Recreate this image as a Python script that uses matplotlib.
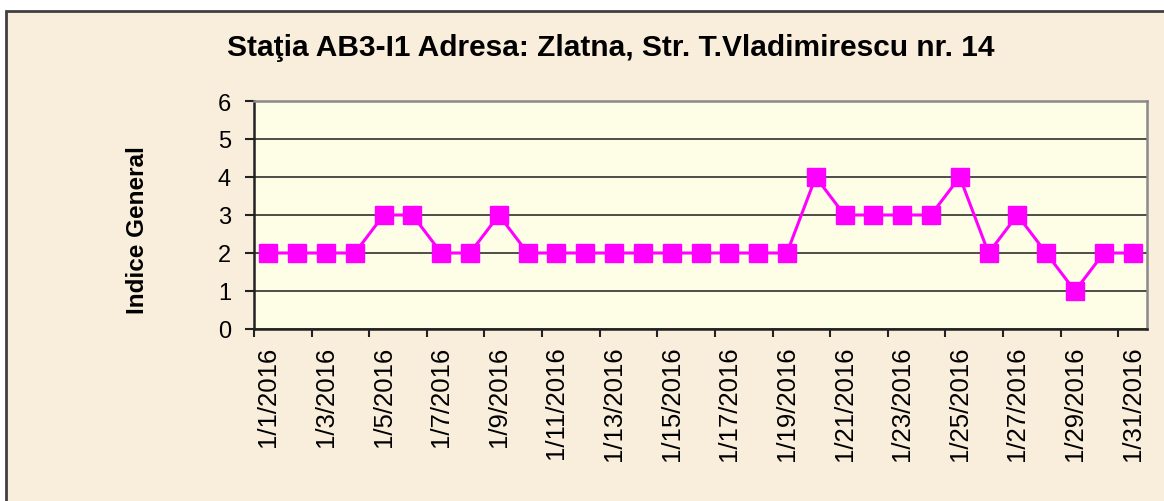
import matplotlib.pyplot as plt
from matplotlib.patches import Rectangle
from matplotlib.ticker import FixedLocator

# Daily general index, January 2016
days = list(range(1, 32))
dates = [f"1/{d}/2016" for d in days]
indice = [2, 2, 2, 2, 3, 3, 2, 2, 3, 2,
          2, 2, 2, 2, 2, 2, 2, 2, 2, 4,
          3, 3, 3, 3, 4, 2, 3, 2, 1, 2, 2]

plt.rcParams['font.family'] = ['Liberation Sans', 'DejaVu Sans']

fig = plt.figure(figsize=(11.64, 5.02), dpi=100, facecolor='white')

# parchment background with frame
bg = Rectangle((6 / 1164, -0.05), 1.1, 1.05 - 12 / 502, transform=fig.transFigure,
               facecolor='#f9eedb', edgecolor='#404040', linewidth=2, zorder=-5)
fig.patches.append(bg)

ax = fig.add_axes([254 / 1164, 1 - 330 / 502, (1147 - 254) / 1164, (330 - 102) / 502])
ax.set_zorder(2)
ax.set_facecolor('#fefde6')

x = list(range(len(dates)))
ax.plot(x, indice, color='#ff00ff', linewidth=2.2, marker='s', markersize=13,
        markeredgecolor='#ff00ff', zorder=3, clip_on=False)

ax.set_xlim(-0.5, len(dates) - 0.5)
ax.set_ylim(0, 6)
ax.set_yticks(range(0, 7))
ax.yaxis.grid(True, color='#1e1e1e', linewidth=1.1)
ax.set_axisbelow(True)

ax.set_xticks(x[::2])
ax.set_xticklabels(dates[::2], rotation=90, va='top', ha='center')
ax.xaxis.set_minor_locator(FixedLocator([i - 0.5 for i in range(0, len(dates) + 1, 2)]))
ax.tick_params(axis='x', which='major', length=0, pad=12, labelsize=18.5)
ax.tick_params(axis='x', which='minor', length=6, width=1.5, color='#222222', direction='out')
ax.tick_params(axis='y', length=6.5, width=1.5, color='#222222', pad=10, labelsize=17)

for side in ('left', 'bottom'):
    ax.spines[side].set_color('#222222')
    ax.spines[side].set_linewidth(1.8)
for side in ('top', 'right'):
    ax.spines[side].set_color('#8a8a8a')
    ax.spines[side].set_linewidth(1.8)

fig.text(137 / 1164, 1 - 230 / 502, 'Indice General', rotation=90, ha='center', va='center',
         fontsize=17.5, fontweight='bold')
fig.text(611 / 1164, 1 - 48 / 502, 'Staţia AB3-I1 Adresa: Zlatna, Str. T.Vladimirescu nr. 14',
         ha='center', va='center', fontsize=21.5, fontweight='bold')

fig.savefig('out.png', dpi=100, facecolor='white')
